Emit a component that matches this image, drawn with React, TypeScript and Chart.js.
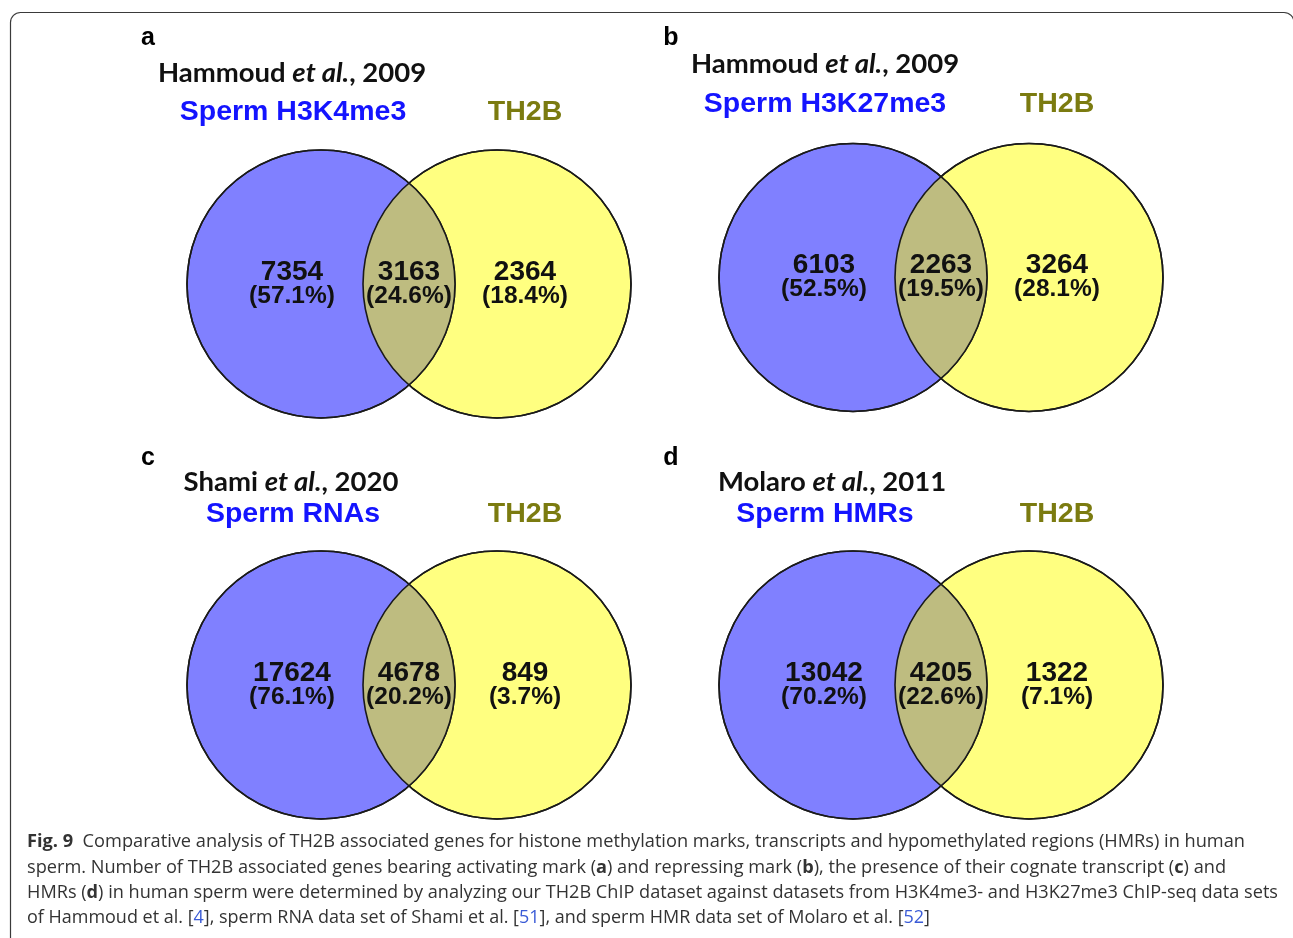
import React, { useEffect, useRef } from 'react';
import { Chart, registerables } from 'chart.js';

Chart.register(...registerables);

const W = 1293;
const H = 938;

// ---------- data ----------
const panelLetters = ['a', 'b', 'c', 'd'];
const studyAuthors = ['Hammoud', 'Hammoud', 'Shami', 'Molaro'];
const studyYears = ['2009', '2009', '2020', '2011'];
const spermSetLabels = ['Sperm H3K4me3', 'Sperm H3K27me3', 'Sperm RNAs', 'Sperm HMRs'];
const th2bSetLabel = 'TH2B';
const spermOnlyCounts = [7354, 6103, 17624, 13042];
const sharedCounts = [3163, 2263, 4678, 4205];
const th2bOnlyCounts = [2364, 3264, 849, 1322];
const spermOnlyPct = [57.1, 52.5, 76.1, 70.2];
const sharedPct = [24.6, 19.5, 20.2, 22.6];
const th2bOnlyPct = [18.4, 28.1, 3.7, 7.1];

// ---------- layout (figure pixels) ----------
const panelLayout = [
  { mid: [409, 284], letter: [148, 38], title: [292, 73], labelY: 112 },
  { mid: [941, 277.5], letter: [671, 38], title: [825, 64], labelY: 104 },
  { mid: [409, 685], letter: [148, 458], title: [291, 482], labelY: 514 },
  { mid: [941, 685], letter: [671, 458], title: [832, 482], labelY: 514 },
];
const HALF_GAP = 88;
const RADIUS = 134;
const LABEL_DX = 116;
const NUM_DY = 12;

const BLUE_FILL = '#8080FF';
const YELLOW_FILL = '#FFFF80';
const LENS_FILL = '#BEBC80';
const BLUE_TEXT = '#1414ff';
const OLIVE_TEXT = '#7b7b10';
const CAPTION_COLOR = '#333333';
const LINK_COLOR = '#3a5bd6';

const ARIAL = "'Liberation Sans', Arial, sans-serif";
const TITLE_FONT = "Lato, 'Open Sans', sans-serif";
const CAP_FONT = "'Open Sans', 'Noto Sans', sans-serif";

type Seg = { t: string; font: string; color: string };

const captionLines: { segs: [string, string][]; width: number }[] = [
  {
    segs: [
      ['b', 'Fig. 9'],
      ['r', '  Comparative analysis of TH2B associated genes for histone methylation marks, transcripts and hypomethylated regions (HMRs) in human'],
    ],
    width: 1218,
  },
  {
    segs: [
      ['r', 'sperm. Number of TH2B associated genes bearing activating mark ('],
      ['b', 'a'],
      ['r', ') and repressing mark ('],
      ['b', 'b'],
      ['r', '), the presence of their cognate transcript ('],
      ['b', 'c'],
      ['r', ') and'],
    ],
    width: 1199,
  },
  {
    segs: [
      ['r', 'HMRs ('],
      ['b', 'd'],
      ['r', ') in human sperm were determined by analyzing our TH2B ChIP dataset against datasets from H3K4me3- and H3K27me3 ChIP-seq data sets'],
    ],
    width: 1251,
  },
  {
    segs: [
      ['r', 'of Hammoud et al. ['],
      ['l', '4'],
      ['r', '], sperm RNA data set of Shami et al. ['],
      ['l', '51'],
      ['r', '], and sperm HMR data set of Molaro et al. ['],
      ['l', '52'],
      ['r', ']'],
    ],
    width: 903,
  },
];
const CAPTION_X = 27;
const CAPTION_Y = [842, 868, 893, 918];

function drawRich(
  ctx: CanvasRenderingContext2D,
  segs: Seg[],
  x: number,
  y: number,
  align: 'center' | 'left',
  targetWidth?: number
) {
  ctx.save();
  ctx.textBaseline = 'middle';
  ctx.textAlign = 'left';
  const widths = segs.map((s) => {
    ctx.font = s.font;
    return ctx.measureText(s.t).width;
  });
  const total = widths.reduce((a, b) => a + b, 0);
  const sx = targetWidth ? targetWidth / total : 1;
  const start = align === 'center' ? x - (total * sx) / 2 : x;
  ctx.translate(start, y);
  ctx.scale(sx, 1);
  let cx = 0;
  segs.forEach((s, i) => {
    ctx.font = s.font;
    ctx.fillStyle = s.color;
    ctx.fillText(s.t, cx, 0);
    cx += widths[i];
  });
  ctx.restore();
}

const vennPlugin = {
  id: 'vennFigure',
  beforeDraw(chart: any) {
    const ctx: CanvasRenderingContext2D = chart.ctx;
    ctx.save();
    ctx.fillStyle = '#ffffff';
    ctx.fillRect(0, 0, chart.width, chart.height);
    // rounded frame
    const x0 = 10.5, y0 = 12.5, x1 = 1294, y1 = H + 20, r = 10;
    ctx.beginPath();
    ctx.moveTo(x0, y1);
    ctx.lineTo(x0, y0 + r);
    ctx.arcTo(x0, y0, x0 + r, y0, r);
    ctx.lineTo(x1 - r, y0);
    ctx.arcTo(x1, y0, x1, y0 + r, r);
    ctx.lineTo(x1, y1);
    ctx.strokeStyle = '#3a3a3a';
    ctx.lineWidth = 1.2;
    ctx.stroke();
    ctx.restore();
  },
  afterDatasetsDraw(chart: any) {
    const ctx: CanvasRenderingContext2D = chart.ctx;
    const mA = chart.getDatasetMeta(0);
    const mB = chart.getDatasetMeta(1);
    panelLayout.forEach((p, i) => {
      const a = mA.data[i];
      const b = mB.data[i];
      const ra = a.options.radius;
      const rb = b.options.radius;
      // overlap lens
      ctx.save();
      ctx.beginPath();
      ctx.arc(a.x, a.y, ra, 0, Math.PI * 2);
      ctx.clip();
      ctx.beginPath();
      ctx.arc(b.x, b.y, rb, 0, Math.PI * 2);
      ctx.fillStyle = LENS_FILL;
      ctx.fill();
      ctx.restore();
      // outlines
      ctx.save();
      ctx.strokeStyle = '#1a1a1a';
      ctx.lineWidth = 1.6;
      ctx.beginPath();
      ctx.arc(a.x, a.y, ra, 0, Math.PI * 2);
      ctx.stroke();
      ctx.beginPath();
      ctx.arc(b.x, b.y, rb, 0, Math.PI * 2);
      ctx.stroke();
      ctx.restore();

      const midX = (a.x + b.x) / 2;
      const midY = (a.y + b.y) / 2;

      // panel letter
      drawRich(ctx, [{ t: panelLetters[i], font: `bold 25px ${ARIAL}`, color: '#000' }], p.letter[0], p.letter[1], 'center');
      // study title
      drawRich(
        ctx,
        [
          { t: studyAuthors[i] + ' ', font: `bold 27.5px ${TITLE_FONT}`, color: '#111' },
          { t: 'et al.', font: `italic bold 27.5px ${TITLE_FONT}`, color: '#111' },
          { t: ', ' + studyYears[i], font: `bold 27.5px ${TITLE_FONT}`, color: '#111' },
        ],
        p.title[0],
        p.title[1],
        'center'
      );
      // set labels
      drawRich(ctx, [{ t: spermSetLabels[i], font: `bold 28.5px ${ARIAL}`, color: BLUE_TEXT }], midX - LABEL_DX, p.labelY, 'center');
      drawRich(ctx, [{ t: th2bSetLabel, font: `bold 28.5px ${ARIAL}`, color: OLIVE_TEXT }], midX + LABEL_DX, p.labelY, 'center');
      // region counts
      const xs = [midX - LABEL_DX - 1, midX, midX + LABEL_DX];
      const counts = [spermOnlyCounts[i], sharedCounts[i], th2bOnlyCounts[i]];
      const pcts = [spermOnlyPct[i], sharedPct[i], th2bOnlyPct[i]];
      xs.forEach((x, k) => {
        drawRich(ctx, [{ t: String(counts[k]), font: `bold 28px ${ARIAL}`, color: '#111' }], x, midY - NUM_DY, 'center');
        drawRich(ctx, [{ t: `(${pcts[k].toFixed(1)}%)`, font: `bold 24.5px ${ARIAL}`, color: '#111' }], x, midY + NUM_DY, 'center');
      });
    });

    // caption
    captionLines.forEach((line, li) => {
      const segs: Seg[] = line.segs.map(([k, t]) => ({
        t,
        font: `${k === 'b' ? 'bold ' : ''}18px ${CAP_FONT}`,
        color: k === 'l' ? LINK_COLOR : CAPTION_COLOR,
      }));
      drawRich(ctx, segs, CAPTION_X, CAPTION_Y[li], 'left', line.width);
    });
  },
};

export default function App() {
  const canvasRef = useRef<HTMLCanvasElement | null>(null);

  useEffect(() => {
    if (!canvasRef.current) return;
    const chart = new Chart(canvasRef.current, {
      type: 'bubble',
      data: {
        datasets: [
          {
            label: 'Sperm dataset',
            data: panelLayout.map((p) => ({ x: p.mid[0] - HALF_GAP, y: p.mid[1], r: RADIUS })),
            backgroundColor: BLUE_FILL,
            borderColor: '#1a1a1a',
            borderWidth: 1.6,
          },
          {
            label: th2bSetLabel,
            data: panelLayout.map((p) => ({ x: p.mid[0] + HALF_GAP, y: p.mid[1], r: RADIUS })),
            backgroundColor: YELLOW_FILL,
            borderColor: '#1a1a1a',
            borderWidth: 1.6,
          },
        ],
      },
      options: {
        animation: false,
        responsive: true,
        maintainAspectRatio: false,
        devicePixelRatio: 1,
        layout: { padding: 0, autoPadding: false },
        events: [],
        scales: {
          x: { type: 'linear', display: false, min: 0, max: W },
          y: { type: 'linear', display: false, min: 0, max: H, reverse: true },
        },
        plugins: {
          legend: { display: false },
          tooltip: { enabled: false },
        },
      },
      plugins: [vennPlugin],
    });
    return () => chart.destroy();
  }, []);

  return (
    <div style={{ position: 'fixed', left: 0, top: 0, width: W, height: H, background: '#fff' }}>
      <canvas ref={canvasRef} />
    </div>
  );
}
